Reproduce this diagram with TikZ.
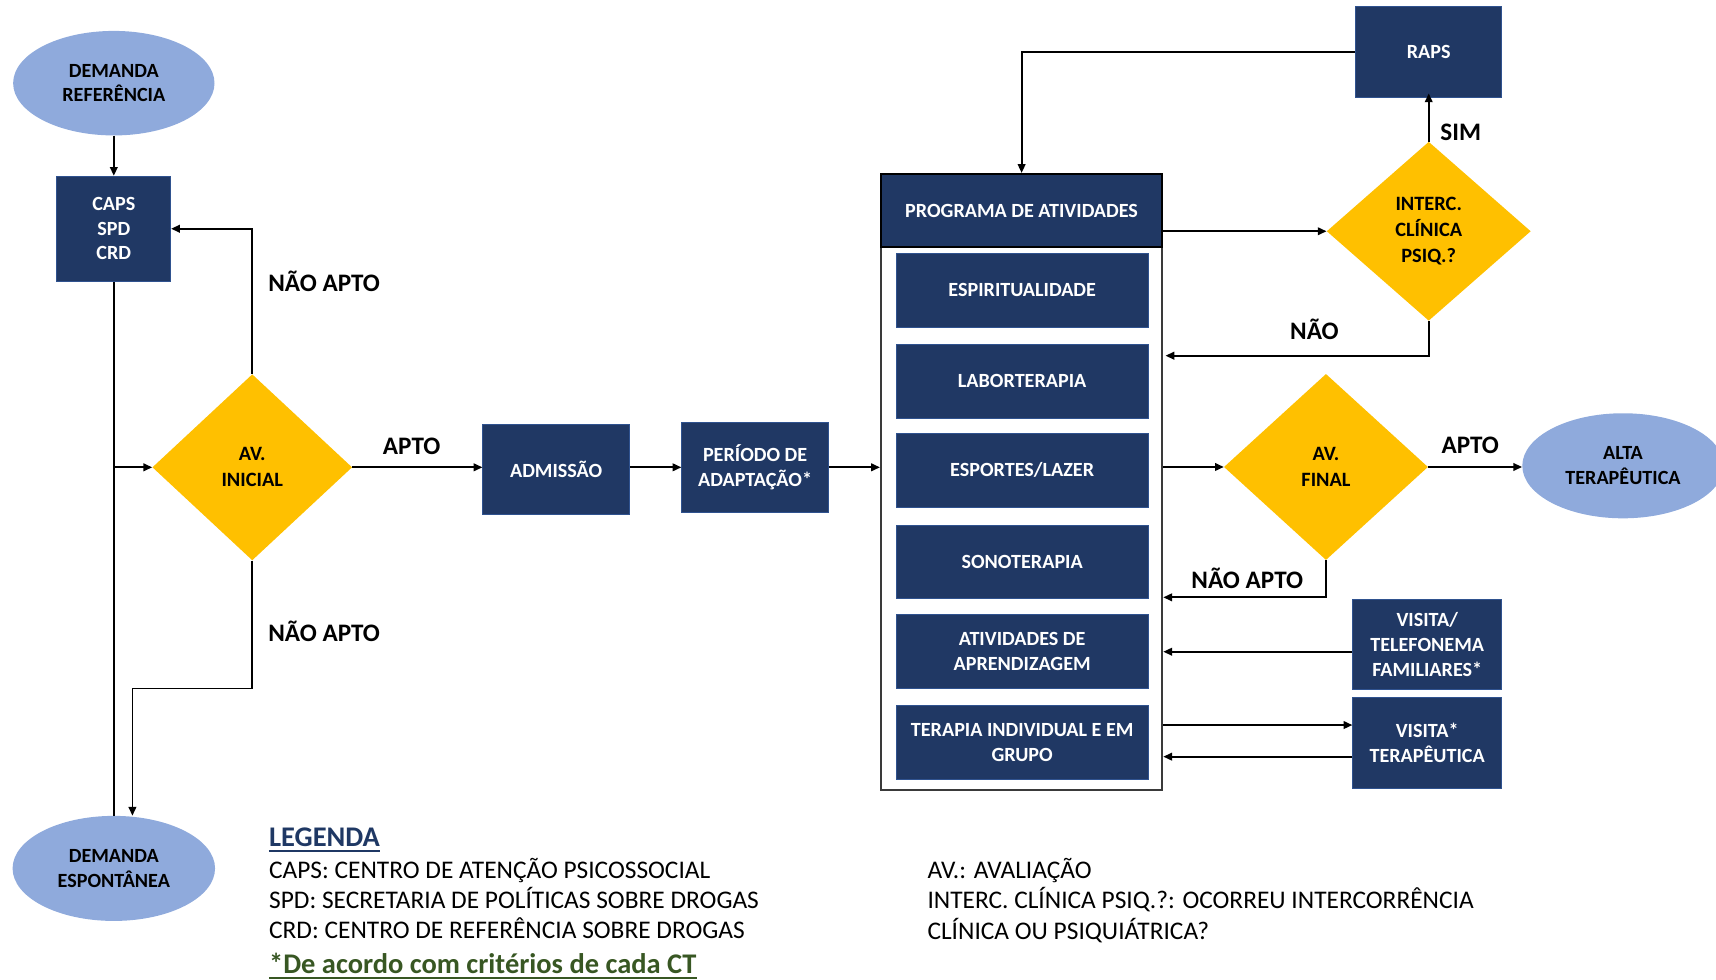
\documentclass[tikz,border=0pt]{standalone}
\usepackage{fontspec}
\setmainfont{Carlito}
\usetikzlibrary{shapes.geometric,arrows.meta}
\definecolor{navy}{HTML}{203864}
\definecolor{boxedge}{HTML}{2F528F}
\definecolor{lightblue}{HTML}{8FAADC}
\definecolor{gold}{HTML}{FFC000}
\definecolor{legblue}{HTML}{1F3864}
\definecolor{leggreen}{HTML}{385723}
\definecolor{contedge}{HTML}{3A3A3A}
\begin{document}
\begin{tikzpicture}[x=1pt,y=-1pt,
  box/.style={rectangle, fill=navy, draw=boxedge, line width=0.8pt, text=white,
    font=\bfseries\fontsize{18.4}{22.5}\selectfont, align=center, inner sep=0pt},
  ell/.style={ellipse, fill=lightblue, text=black, draw=none,
    font=\bfseries\fontsize{18.4}{22.5}\selectfont, align=center, inner sep=0pt},
  dia/.style={diamond, fill=gold, text=black, draw=none,
    font=\bfseries\fontsize{18.6}{23.8}\selectfont, align=center, inner sep=0pt},
  conn/.style={line width=1.6pt, draw=black},
  arr/.style={conn, -{Triangle[length=8pt,width=7pt]}},
  lbl/.style={font=\bfseries\fontsize{23}{28}\selectfont, anchor=base west, inner sep=0pt, text=black},
  leg/.style={font=\fontsize{23.2}{28}\selectfont, anchor=base west, inner sep=0pt, text=black},
  legb/.style={font=\bfseries\fontsize{26}{30}\selectfont, anchor=base west, inner sep=0pt}]
\useasboundingbox (0,0) rectangle (1568,895);
\clip (0,0) rectangle (1568,895);

% left column
\node[ell, minimum width=184pt, minimum height=95.5pt] (dref) at (104,76) {DEMANDA\\REFERÊNCIA};
\node[box, minimum width=104pt, minimum height=96pt] (caps) at (104,209) {CAPS\\SPD\\CRD};
\node[ell, minimum width=185pt, minimum height=96pt] (desp) at (104,793.5) {DEMANDA\\ESPONTÂNEA};
\node[dia, minimum width=182.5pt, minimum height=170pt] (avi) at (230.5,427) {AV.\\INICIAL};

% middle
\node[box, minimum width=134pt, minimum height=83pt] (adm) at (508.2,429) {ADMISSÃO};
\node[box, minimum width=134pt, minimum height=82pt] (per) at (690,427) {PERÍODO DE\\ADAPTAÇÃO*};

% container
\node[draw=contedge, fill=white, line width=2pt, minimum width=257pt, minimum height=563pt, inner sep=0pt] (cont) at (933.5,440.5) {};
\node[box, draw=black, line width=2pt, minimum width=257pt, minimum height=67pt] (head) at (933.5,192.5) {PROGRAMA DE ATIVIDADES};
\node[box, minimum width=230.5pt, minimum height=67.5pt] (b1) at (934,265.3) {ESPIRITUALIDADE};
\node[box, minimum width=230.5pt, minimum height=67.5pt] (b2) at (934,348.2) {LABORTERAPIA};
\node[box, minimum width=230.5pt, minimum height=67.5pt] (b3) at (934,429.8) {ESPORTES/LAZER};
\node[box, minimum width=230.5pt, minimum height=67.5pt] (b4) at (934,513.5) {SONOTERAPIA};
\node[box, minimum width=230.5pt, minimum height=67.5pt] (b5) at (934,595.5) {ATIVIDADES DE\\APRENDIZAGEM};
\node[box, minimum width=230.5pt, minimum height=67.5pt] (b6) at (934,678.6) {TERAPIA INDIVIDUAL E EM\\GRUPO};

% right
\node[box, minimum width=133.5pt, minimum height=83pt] (raps) at (1305.5,47.5) {RAPS};
\node[dia, minimum width=186.4pt, minimum height=163.5pt] (interc) at (1305.5,211.3) {INTERC.\\CLÍNICA\\PSIQ.?};
\node[dia, minimum width=186.4pt, minimum height=170pt] (avf) at (1211.6,426.7) {AV.\\FINAL};
\node[ell, minimum width=184pt, minimum height=96pt] (alta) at (1483,425.6) {ALTA\\TERAPÊUTICA};
\node[box, minimum width=136pt, minimum height=83pt] (vtf) at (1304.1,588.9) {VISITA/\\TELEFONEMA\\FAMILIARES*};
\node[box, minimum width=136pt, minimum height=83pt] (vt) at (1304.1,678.9) {VISITA*\\TERAPÊUTICA};

% connectors left
\draw[arr] (dref.south) -- (caps.north);
\draw[conn] (caps.south) -- (desp.north);
\draw[arr] (caps.south |- avi.west) -- (avi.west);
\draw[arr] (avi.north) |- (caps.east);
\coordinate (na) at (121,629);
\draw[arr] (avi.south) |- (na) -- (na |- desp.north);
\draw[arr] (avi.east) -- (avi.east -| adm.west);
\draw[arr] (adm.east |- per.west) -- (per.west);
\draw[arr] (per.east) -- (per.east -| cont.west);

% connectors right
\draw[arr] (interc.west -| cont.east) -- (interc.west);
\draw[arr] (raps.west) -| (head.north);
\draw[arr] (interc.north) -- ([yshift=4pt]raps.south);
\coordinate (nn) at (1305.5,325);
\draw[arr] (interc.south) |- ([xshift=2pt]nn -| cont.east);
\draw[arr] (avf.west -| cont.east) -- (avf.west);
\draw[arr] (avf.east) -- (avf.east -| alta.west);
\coordinate (nf) at (1211.6,545.8);
\draw[arr] (avf.south) |- (nf -| cont.east);
\draw[arr] ([yshift=-6.6pt]vtf.west) -- ([yshift=-6.6pt]vtf.west -| cont.east);
\draw[arr] ([yshift=16.4pt]vt.west -| cont.east) -- ([yshift=16.4pt]vt.west);
\draw[arr] ([yshift=-12.5pt]vt.west) -- ([yshift=-12.5pt]vt.west -| cont.east);

% labels
\node[lbl] (l1) at (245,266.4) {NÃO APTO};
\node[lbl] (l2) at (245,586) {NÃO APTO};
\node[lbl] (l3) at (349.7,415.4) {APTO};
\node[lbl] (l4) at (1316,128.6) {SIM};
\node[lbl] (l5) at (1178.7,310.4) {NÃO};
\node[lbl] (l6) at (1317,414) {APTO};
\node[lbl] (l7) at (1088.5,537.4) {NÃO APTO};

% legend
\node[legb, text=legblue] (g0) at (245.7,773.5) {LEGENDA};
\draw[legblue, line width=2pt] ([yshift=-4pt]g0.base west) -- ([yshift=-4pt]g0.base east);
\node[leg] (g1) at (245.7,803) {CAPS: CENTRO DE ATENÇÃO PSICOSSOCIAL};
\node[leg] (g2) at (245.7,830.4) {SPD: SECRETARIA DE POLÍTICAS SOBRE DROGAS};
\node[leg] (g3) at (245.7,857.8) {CRD: CENTRO DE REFERÊNCIA SOBRE DROGAS};
\node[legb, text=leggreen] (g4) at (245.7,889.5) {*De acordo com critérios de cada CT};
\draw[leggreen, line width=1.6pt] ([yshift=-4pt]g4.base west) -- ([yshift=-4pt]g4.base east);
\node[leg] (h1) at (847.3,802.4) {AV.: AVALIAÇÃO};
\node[leg] (h2) at (847.3,830.4) {INTERC. CLÍNICA PSIQ.?: OCORREU INTERCORRÊNCIA};
\node[leg] (h3) at (847.3,858.7) {CLÍNICA OU PSIQUIÁTRICA?};
\end{tikzpicture}
\end{document}
